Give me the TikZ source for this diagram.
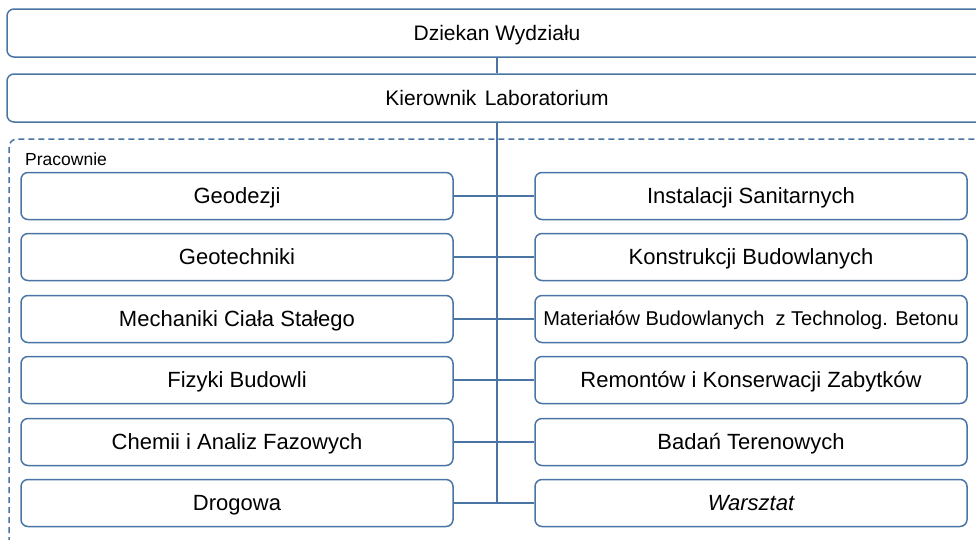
\documentclass[tikz,border=0pt]{standalone}
\usepackage{fontspec}
\setmainfont{Liberation Sans}
\definecolor{linecol}{RGB}{74,116,164}
\begin{document}
\begin{tikzpicture}[x=1pt,y=-1pt,
    box/.style={draw=linecol,line width=1.5pt,rounded corners=7pt,inner sep=0pt,
        minimum height=47pt,text height=15pt,text depth=0pt,font=\fontsize{22}{26}\selectfont},
    widebox/.style={box,minimum width=980pt,minimum height=48pt,text height=14.5pt,
        font=\fontsize{21}{25}\selectfont},
    labbox/.style={box,minimum width=432pt},
    link/.style={draw=linecol,line width=1.5pt}]
    \useasboundingbox (0,0) rectangle (976,539);
    % kierownictwo
    \node[widebox] (dziekan) at (497,33) {Dziekan Wydzia\l{}u};
    \node[widebox] (kierownik) at (497,98) {Kierownik\hspace{0.4em}Laboratorium};
    % ramka pracowni
    \draw[draw=linecol,line width=1.5pt,dash pattern=on 6pt off 4pt,rounded corners=8pt]
        (9,139) rectangle (1000,580);
    \node[anchor=base west,inner sep=0pt,font=\fontsize{17.5}{20}\selectfont] (pracownie) at (25,165) {Pracownie};
    % lewa kolumna
    \node[labbox] (geodezja) at (237,196) {Geodezji};
    \node[labbox] (geotechnika) at (237,257) {Geotechniki};
    \node[labbox] (mechanika) at (237,319) {Mechaniki Cia\l{}a Sta\l{}ego};
    \node[labbox] (fizyka) at (237,380) {Fizyki Budowli};
    \node[labbox] (chemia) at (237,442) {Chemii i Analiz Fazowych};
    \node[labbox] (drogowa) at (237,503) {Drogowa};
    % prawa kolumna
    \node[labbox] (instalacje) at (751,196) {Instalacji Sanitarnych};
    \node[labbox] (konstrukcje) at (751,257) {Konstrukcji Budowlanych};
    \node[labbox,font=\fontsize{20}{24}\selectfont,text height=13.5pt] (materialy) at (751,319) {Materia\l{}\'ow Budowlanych \ z Technolog. Betonu};
    \node[labbox] (remonty) at (751,380) {Remont\'ow i Konserwacji Zabytk\'ow};
    \node[labbox] (badania) at (751,442) {Bada\'n Terenowych};
    \node[labbox] (warsztat) at (751,503) {\itshape Warsztat};
    % polaczenia
    \draw[link] (dziekan.south) -- (kierownik.north);
    \draw[link] (kierownik.south) -- (kierownik.south |- drogowa.east);
    \draw[link] (geodezja.east) -- (instalacje.west);
    \draw[link] (geotechnika.east) -- (konstrukcje.west);
    \draw[link] (mechanika.east) -- (materialy.west);
    \draw[link] (fizyka.east) -- (remonty.west);
    \draw[link] (chemia.east) -- (badania.west);
    \draw[link] (drogowa.east) -- (warsztat.west);
\end{tikzpicture}
\end{document}
